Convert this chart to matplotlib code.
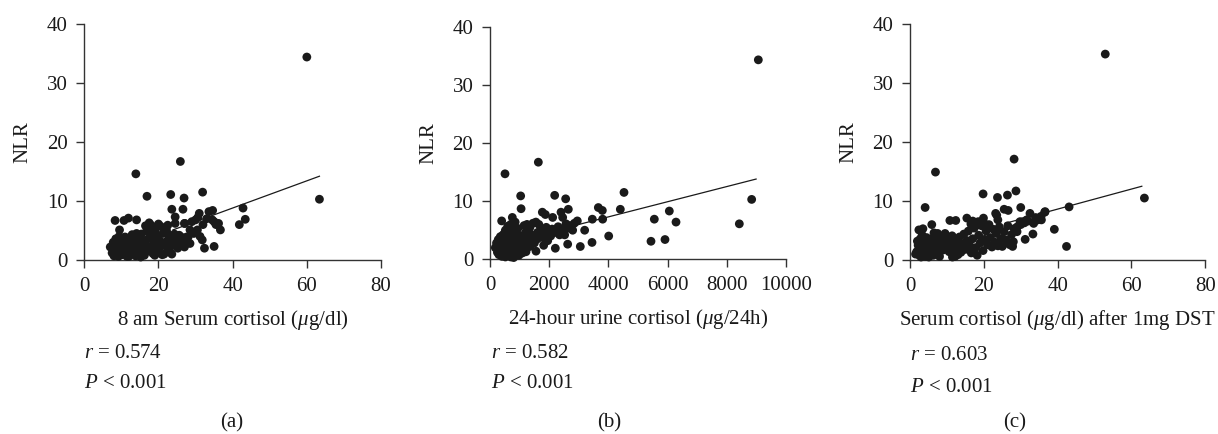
import matplotlib
matplotlib.use("Agg")
import matplotlib.pyplot as plt

plt.rcParams['font.family'] = ['Liberation Serif', 'DejaVu Serif']
plt.rcParams['mathtext.fontset'] = 'custom'
plt.rcParams['mathtext.rm'] = 'Liberation Serif'
plt.rcParams['mathtext.it'] = 'Liberation Serif:italic'

# ---------------- data ----------------
pts_a = [
    (60.0, 34.4), (63.4, 10.3), (25.9, 16.7), (13.9, 14.6), (16.9, 10.8), (23.3, 11.1), (26.9, 10.5),
    (31.9, 11.5), (42.8, 8.8), (43.4, 6.9), (41.8, 6.0), (23.6, 8.6), (26.6, 8.6), (33.6, 8.2),
    (34.6, 8.4), (31.0, 7.9), (32.4, 2.0), (35.0, 2.3), (36.7, 5.1), (36.2, 6.2), (34.5, 6.8),
    (27.0, 6.2), (29.0, 6.5), (30.5, 5.1), (31.2, 4.0), (31.8, 3.4), (8.3, 6.7), (10.7, 6.7),
    (11.9, 7.1), (14.1, 6.8), (9.5, 5.1), (14.1, 4.5), (17.5, 6.3),
    (24.5, 7.3), (24.5, 6.2), (27.1, 6.2), (35.0, 6.5), (35.5, 6.0), (28.5, 5.1), (27.6, 3.9),
    (28.5, 2.8), (19.1, 4.6), (22.2, 4.8), (30.0, 6.8), (30.6, 7.2), (32.0, 6.0), (33.0, 7.0),
    (29.5, 4.5),
    (7.0, 2.2), (7.5, 1.2), (7.8, 3.0), (8.0, 0.7), (8.3, 2.0), (8.5, 3.6), (8.8, 1.3), (9.0, 2.7),
    (9.2, 0.6), (9.4, 4.0), (9.7, 1.8), (10.0, 3.1), (10.2, 0.9), (10.5, 2.4), (10.8, 3.8),
    (11.0, 1.4), (11.3, 2.9), (11.5, 0.6), (11.8, 2.1), (12.0, 3.5), (12.3, 1.0), (12.6, 2.6),
    (12.9, 4.3), (13.2, 1.6), (13.5, 3.0), (13.8, 0.7), (14.0, 2.2), (14.3, 3.7), (14.6, 1.2),
    (14.9, 2.8), (15.2, 0.5), (15.4, 4.4), (15.6, 1.9), (15.9, 3.3), (16.2, 0.8), (16.5, 2.5),
    (16.8, 4.9), (17.0, 1.5), (17.3, 3.6), (17.6, 5.6), (17.9, 2.2), (18.2, 4.2), (18.5, 1.1),
    (18.8, 3.0), (19.1, 5.2), (19.4, 2.0), (19.7, 4.0), (20.0, 1.3), (20.3, 3.3), (20.6, 5.7),
    (20.9, 2.4), (21.2, 4.5), (21.5, 1.0), (21.8, 3.0), (22.1, 5.2), (22.4, 2.1), (22.7, 4.1),
    (23.0, 1.6), (23.3, 3.3), (23.6, 1.0), (24.0, 2.6), (24.3, 4.4), (24.7, 3.5), (25.2, 2.0),
    (25.6, 4.2), (26.0, 2.9), (26.5, 3.8), (27.0, 2.2), (27.5, 2.8), (28.0, 3.9), (18.0, 5.9),
    (20.0, 6.1), (16.5, 5.8), (13.0, 4.0), (11.0, 3.9), (22.5, 5.9), (19.0, 0.8), (21.0, 0.9),
    (8.6, 0.9), (12.0, 0.6),
]

pts_b = [
    (9065, 34.3), (8840, 10.3), (8423, 6.1), (507, 14.7), (1633, 16.7), (1036, 10.9), (1050, 8.7),
    (2185, 11.0), (2556, 10.4), (2646, 8.6), (4527, 11.5), (4403, 8.6), (3660, 8.9), (3795, 8.4),
    (3806, 6.9), (3457, 6.9), (4010, 4.0), (3446, 2.9), (3051, 2.2), (3198, 5.0), (5439, 3.1),
    (5551, 6.9), (5912, 3.4), (6058, 8.3), (6284, 6.4), (2624, 2.6), (2207, 1.9), (1813, 2.4),
    (1554, 1.4), (1216, 1.3), (1768, 8.1), (1870, 7.7), (2399, 8.1), (2455, 7.2), (2117, 7.2),
    (2950, 6.6), (2792, 5.0), (2522, 4.2), (2567, 6.1), (394, 6.6), (754, 7.2),
    (1150, 5.8), (1250, 6.0), (1350, 5.5), (1450, 6.2), (1550, 6.4), (1650, 6.0), (1700, 5.0),
    (1800, 4.5), (1900, 5.5), (2000, 4.8), (2100, 5.2), (2250, 4.6), (2300, 5.6), (2400, 5.2),
    (2700, 5.8), (2850, 6.2), (1400, 4.2), (1600, 3.5), (1750, 3.8), (1950, 3.2), (2050, 4.0),
    (1300, 3.0), (1100, 2.5), (1500, 2.8), (1200, 4.6), (1000, 3.8), (2600, 5.3), (2350, 4.2),
    (180, 2.0), (220, 2.8), (250, 1.2), (280, 3.4), (300, 0.8), (320, 2.2), (350, 3.9), (370, 1.5),
    (400, 0.5), (420, 2.6), (440, 4.2), (460, 1.0), (480, 3.1), (500, 1.8), (520, 0.4), (540, 2.4),
    (560, 3.6), (580, 5.2), (600, 1.2), (620, 2.9), (640, 0.6), (660, 4.4), (680, 2.0), (700, 3.3),
    (720, 1.0), (740, 5.0), (760, 2.5), (780, 0.5), (800, 3.8), (820, 1.6), (840, 4.6), (860, 2.8),
    (880, 0.9), (900, 3.5), (920, 1.9), (940, 5.3), (960, 2.4), (980, 0.7), (1000, 4.1),
    (1020, 1.4), (1050, 3.0), (1080, 2.0), (1100, 1.1), (1130, 3.6), (600, 5.7), (700, 6.0),
    (850, 6.4), (500, 4.6), (400, 3.6), (300, 2.9), (650, 1.8), (750, 3.9), (950, 2.9), (550, 1.0),
    (450, 2.0), (350, 1.2), (800, 0.3), (900, 1.3), (1000, 2.2), (700, 0.4), (620, 3.9), (520, 5.0),
    (420, 1.6), (1150, 1.8), (1250, 3.8), (1350, 2.2), (1450, 3.3), (1300, 5.0), (1600, 4.6),
    (1850, 3.6), (1200, 1.8),
]

pts_c = [
    (52.9, 34.9), (63.5, 10.5), (6.9, 14.9), (28.2, 17.1), (4.1, 8.9), (19.8, 11.2), (23.7, 10.6),
    (26.4, 11.0), (28.7, 11.7), (30.0, 8.9), (43.1, 9.0), (39.1, 5.2), (42.4, 2.3), (33.3, 4.4),
    (31.2, 3.5), (36.5, 8.1), (32.5, 7.9), (35.6, 6.8), (5.9, 6.0), (10.8, 6.7), (12.4, 6.7),
    (15.4, 7.1), (19.9, 7.1), (23.2, 7.9), (25.5, 8.6), (26.6, 8.4), (2.4, 5.1), (3.5, 5.3),
    (7.5, 4.5), (9.5, 4.5), (27.8, 2.3),
    (23.5, 7.6), (23.8, 6.8), (34.6, 6.8), (35.5, 7.4), (36.6, 8.2), (31.6, 6.8), (30.6, 6.5),
    (29.8, 6.5), (29.0, 5.6), (28.2, 5.3),
    (1.8, 1.4), (2.2, 2.5), (2.5, 0.8), (2.8, 3.6), (3.0, 1.8), (3.3, 4.2), (3.6, 1.0), (3.9, 2.8),
    (4.2, 0.6), (4.5, 3.8), (4.8, 1.9), (5.1, 0.5), (5.4, 2.9), (5.7, 1.2), (6.0, 3.6), (6.3, 0.8),
    (6.6, 2.2), (7.0, 1.5), (7.4, 3.2), (7.8, 0.9), (8.2, 2.6), (8.6, 4.0), (9.0, 1.7), (9.4, 3.0),
    (9.8, 2.2), (10.2, 3.8), (10.6, 1.4), (11.0, 2.8), (11.4, 4.1), (11.8, 1.9), (12.2, 0.6),
    (12.6, 3.1), (13.0, 2.0), (13.4, 3.9), (13.8, 1.3), (14.2, 2.7), (14.6, 4.4), (15.0, 1.8),
    (15.4, 3.3), (15.8, 4.9), (16.2, 2.4), (16.6, 1.2), (17.0, 3.6), (17.4, 5.4), (17.8, 2.1),
    (18.2, 0.8), (18.6, 4.2), (19.0, 2.9), (19.4, 5.8), (19.8, 1.6), (20.2, 3.5), (20.6, 4.9),
    (21.0, 2.6), (21.4, 6.0), (21.8, 3.8), (22.2, 2.2), (22.6, 5.2), (23.0, 3.0), (23.4, 4.5),
    (23.8, 2.4), (24.2, 5.6), (24.6, 3.6), (25.0, 2.3), (25.5, 4.8), (26.0, 3.4), (26.5, 5.8),
    (27.0, 2.6), (27.5, 4.3), (28.0, 3.1), (29.0, 4.8), (30.0, 6.0), (31.0, 6.3), (32.0, 6.6),
    (33.5, 6.2), (34.0, 7.2), (20.0, 6.3), (18.0, 5.9), (16.5, 6.1), (17.0, 6.6), (18.5, 6.5),
    (1.5, 1.0), (2.0, 3.2), (3.0, 0.5), (4.0, 3.0), (11.5, 0.5), (13.0, 0.9), (8.0, 0.6),
    (6.5, 4.6),
]

# fitted line endpoints (x0, y0, x1, y1)
fit_a = (23.9, 5.1, 63.4, 14.2)
fit_b = (2700, 5.6, 8990, 13.8)
fit_c = (25.7, 6.2, 62.8, 12.5)

xlabels = ['8 am Serum cortisol ($\\mu$g/dl)',
           '24-hour urine cortisol ($\\mu$g/24h)',
           'Serum cortisol ($\\mu$g/dl) after 1mg DST']
r_values = ['0.574', '0.582', '0.603']
p_text = '< 0.001'
panel_tags = ['(a)', '(b)', '(c)']
xlims = [(0, 80), (0, 10000), (0, 80)]
xticks = [[0, 20, 40, 60, 80], [0, 2000, 4000, 6000, 8000, 10000], [0, 20, 40, 60, 80]]
yticks = [0, 10, 20, 30, 40]

# ---------------- layout ----------------
W, H = 1218, 434
fig = plt.figure(figsize=(W / 100, H / 100), dpi=100)

# axes boxes in pixels: left, right, y(0) pixel, y(40) pixel
boxes = [(84.3, 381.0, 260.0, 24.0), (490.0, 786.0, 259.3, 26.7), (910.0, 1205.3, 260.0, 24.0)]
rtext_pos = [(84, 353), (491, 353), (910, 356)]
ptext_pos = [(84, 384), (491, 383), (910, 387)]
tag_pos = [(232, 423), (609, 423), (1015, 423)]

FS = 15
ink = '#1a1a1a'
for i, (pts, fit) in enumerate(zip([pts_a, pts_b, pts_c], [fit_a, fit_b, fit_c])):
    l, r, yb, yt = boxes[i]
    ax = fig.add_axes([l / W, 1 - yb / H, (r - l) / W, (yb - yt) / H])
    xs = [p[0] for p in pts]
    ys = [p[1] for p in pts]
    ax.scatter(xs, ys, s=40, color=ink, edgecolors='none', zorder=3, clip_on=False)
    ax.plot([fit[0], fit[2]], [fit[1], fit[3]], color=ink, lw=0.9, zorder=4)
    ax.set_xlim(*xlims[i])
    ax.set_ylim(0, 40)
    ax.set_xticks(xticks[i])
    ax.set_yticks(yticks)
    for s in ['top', 'right']:
        ax.spines[s].set_visible(False)
    for s in ['left', 'bottom']:
        ax.spines[s].set_color('#333333')
        ax.spines[s].set_linewidth(1.0)
    ax.tick_params(direction='out', length=6, width=1.0, color='#333333',
                   labelsize=FS, labelcolor=ink, pad=6)
    ax.set_ylabel('NLR', fontsize=FS, color=ink, labelpad=10)
    ax.set_xlabel(xlabels[i], fontsize=FS, color=ink, labelpad=9)
    rx, ry = rtext_pos[i]
    fig.text(rx / W, 1 - ry / H, '$r$ = ' + r_values[i], fontsize=FS, color=ink,
             ha='left', va='center')
    px, py = ptext_pos[i]
    fig.text(px / W, 1 - py / H, '$P$ ' + p_text, fontsize=FS, color=ink,
             ha='left', va='center')
    tx, ty = tag_pos[i]
    fig.text(tx / W, 1 - ty / H, panel_tags[i], fontsize=FS, color=ink,
             ha='center', va='center')

fig.savefig('out.png', dpi=100)
